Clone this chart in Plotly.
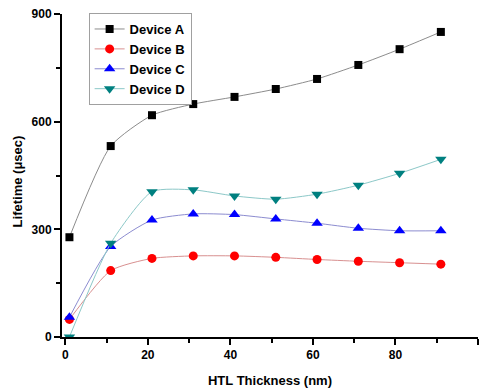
import plotly.graph_objects as go

thickness = [1, 11, 21, 31, 41, 51, 61, 71, 81, 91]
device_a = [278, 532, 618, 649, 669, 691, 719, 758, 802, 850]
device_b = [49, 185, 219, 226, 226, 222, 216, 211, 207, 203]
device_c = [55, 252, 326, 343, 341, 329, 317, 303, 296, 296]
device_d = [0, 261, 405, 410, 393, 384, 398, 423, 456, 495]

series = [
    ("Device A", device_a, "#8c8c8c", "#000000", "square", 8),
    ("Device B", device_b, "#d89090", "#ff0000", "circle", 9),
    ("Device C", device_c, "#8c8cd0", "#0000ff", "triangle-up", 10),
    ("Device D", device_d, "#8cc8c8", "#008080", "triangle-down", 10),
]

fig = go.Figure()
for name, ys, lc, mc, sym, sz in series:
    fig.add_trace(go.Scatter(
        x=thickness, y=ys, name=name, mode="lines+markers",
        line=dict(color=lc, width=1, shape="spline", smoothing=0.6),
        marker=dict(symbol=sym, size=sz, color=mc, line=dict(width=0)),
    ))

font = "Liberation Sans, Arial, sans-serif"
fig.update_layout(
    width=486, height=388,
    margin=dict(l=62, r=8, t=14, b=51, autoexpand=False),
    paper_bgcolor="white", plot_bgcolor="white",
    font=dict(family=font, size=12, color="black"),
    showlegend=True,
    legend=dict(
        x=0.064, y=1.003, xanchor="left", yanchor="top",
        bordercolor="#a0a0a0", borderwidth=1, bgcolor="white",
        font=dict(family=font, size=13, color="black", weight="bold"),
        itemwidth=30, tracegroupgap=0,
    ),
    xaxis=dict(
        range=[-0.8, 100], showgrid=False, zeroline=False, automargin=False,
        showline=True, linecolor="black", linewidth=2,
        ticks="outside", tickwidth=1.5, ticklen=6, tickcolor="black",
        tickvals=[0, 20, 40, 60, 80, 100],
        tickfont=dict(family=font, size=12, weight="bold"),
        minor=dict(ticks="outside", tickvals=[10, 30, 50, 70, 90],
                   ticklen=4, tickwidth=1.5, tickcolor="black"),
        title=dict(text="HTL Thickness (nm)", standoff=14,
                   font=dict(family=font, size=13, weight="bold")),
    ),
    yaxis=dict(
        range=[0, 900], showgrid=False, zeroline=False, automargin=False,
        showline=True, linecolor="black", linewidth=2,
        ticks="outside", tickwidth=1.5, ticklen=6, tickcolor="black",
        tickvals=[0, 300, 600, 900],
        tickfont=dict(family=font, size=12, weight="bold"),
        minor=dict(ticks="outside", tickvals=[150, 450, 750],
                   ticklen=4, tickwidth=1.5, tickcolor="black"),
    ),
    annotations=[dict(
        text="Lifetime (μsec)", textangle=-90, showarrow=False,
        xref="paper", yref="paper", x=-0.108, y=0.482,
        xanchor="center", yanchor="middle",
        font=dict(family=font, size=13, weight="bold", color="black"),
    )],
)
fig.write_html("out.html", config={"displayModeBar": False},
               post_script="document.body.style.margin='0';")
